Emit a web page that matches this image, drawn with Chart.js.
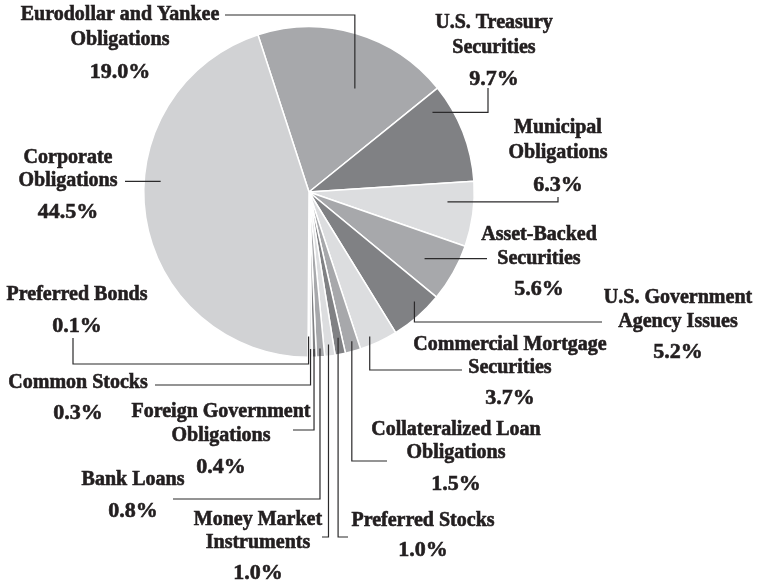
<!DOCTYPE html>
<html>
<head>
<meta charset="utf-8">
<script src="https://cdn.jsdelivr.net/npm/chart.js@4"></script>
<style>
  html, body { margin: 0; padding: 0; background: #fff; }
  #wrap { width: 759px; height: 584px; }
</style>
</head>
<body>
<div id="wrap"><canvas id="pieChart" width="759" height="584"></canvas></div>
<script>
// data, clockwise from the top-left edge of the Eurodollar slice
const categories = [
    'Eurodollar and Yankee\nObligations',
    'U.S. Treasury\nSecurities',
    'Municipal\nObligations',
    'Asset-Backed\nSecurities',
    'U.S. Government\nAgency Issues',
    'Commercial Mortgage\nSecurities',
    'Collateralized Loan\nObligations',
    'Preferred Stocks',
    'Money Market\nInstruments',
    'Bank Loans',
    'Foreign Government\nObligations',
    'Common Stocks',
    'Preferred Bonds',
    'Corporate\nObligations'
];
const shares = [19.0, 9.7, 6.3, 5.6, 5.2, 3.7, 1.5, 1.0, 1.0, 0.8, 0.4, 0.3, 0.1, 44.5];

const MED = '#a7a8ab', DARK = '#808184', LIGHT = '#dcdddf';
const sliceColors = [MED, DARK, LIGHT, MED, DARK, LIGHT, MED, DARK, LIGHT, MED, DARK, LIGHT, MED, '#d1d2d4'];

// where each label sits and how its leader line runs
// t/f: anchor inside the slice (fraction of the sweep / of the radius)
// route: elbows, 'v' moves to a y, 'h' moves to an x
const labelLayout = [
    { x: 120, ys: [15, 40], py: 72, t: 0.607, f: 0.685, route: [['v', 15], ['h', 225]] },
    { x: 494, ys: [23, 48], py: 79, t: 0.175, f: 0.889, route: [['h', 488], ['v', 88]] },
    { x: 558, ys: [128, 153], py: 185, t: 0.34, f: 0.84, route: [['h', 558], ['v', 197]] },
    { x: 539, ys: [235, 259], py: 289, t: 0.53, f: 0.807, route: [['h', 487]] },
    { x: 678, ys: [298, 322], py: 352, t: 0.35, f: 0.92, route: [['v', 322], ['h', 602]] },
    { x: 510, ys: [345, 368], py: 398, t: 0.656, f: 0.948, route: [['v', 370], ['h', 462]] },
    { x: 456, ys: [430, 453], py: 484, t: 0.4, f: 0.94, route: [['v', 461], ['h', 387]] },
    { x: 423, ys: [521], py: 550, t: 0.4, f: 0.9, route: [['v', 537], ['h', 348]] },
    { x: 258, ys: [520, 543], py: 573, t: 0.5, f: 0.93, route: [['v', 537], ['h', 322]] },
    { x: 133, ys: [480], py: 511, t: 0.5, f: 0.95, route: [['v', 499], ['h', 173]] },
    { x: 221, ys: [412, 436], py: 467, t: 0.5, f: 0.95, route: [['v', 430], ['h', 293]] },
    { x: 78, ys: [383], py: 413, t: 0.5, f: 0.95, route: [['v', 385], ['h', 155]] },
    { x: 77, ys: [295], py: 326, t: 0.5, f: 0.875, route: [['v', 364], ['h', 73], ['v', 338]] },
    { x: 68, ys: [158, 181], py: 212, t: 0.58, f: 0.9, route: [['h', 125]] }
];

function boldText(ctx, str, x, y) {
    // the printed original is heavier than Liberation Serif Bold
    ctx.fillText(str, x, y);
    ctx.strokeText(str, x, y);
}

const leaderLabels = {
    id: 'leaderLabels',
    afterDatasetsDraw(chart) {
        const ctx = chart.ctx;
        const arcs = chart.getDatasetMeta(0).data;
        ctx.save();
        ctx.fillStyle = '#231f20';
        ctx.textAlign = 'center';
        ctx.textBaseline = 'middle';
        arcs.forEach((arc, i) => {
            const p = arc.getProps(['x', 'y', 'startAngle', 'endAngle', 'outerRadius'], true);
            const lay = labelLayout[i];
            const a = p.startAngle + (p.endAngle - p.startAngle) * lay.t;
            let x = p.x + Math.cos(a) * p.outerRadius * lay.f;
            let y = p.y + Math.sin(a) * p.outerRadius * lay.f;
            ctx.strokeStyle = '#2b2a2b';
            ctx.lineWidth = 1.2;
            ctx.beginPath();
            ctx.moveTo(x, y);
            lay.route.forEach(([dir, v]) => {
                if (dir === 'h') x = v; else y = v;
                ctx.lineTo(x, y);
            });
            ctx.stroke();

            ctx.strokeStyle = '#231f20';
            ctx.lineWidth = 0.6;
            ctx.font = "bold 20px 'Liberation Serif', serif";
            categories[i].split('\n').forEach((line, k) => {
                boldText(ctx, line, lay.x, lay.ys[k]);
            });
            ctx.font = "bold 22px 'Liberation Serif', serif";
            boldText(ctx, shares[i].toFixed(1) + '%', lay.x, lay.py);
        });
        ctx.restore();
    }
};

new Chart(document.getElementById('pieChart'), {
    type: 'pie',
    data: {
        labels: categories,
        datasets: [{
            data: shares,
            backgroundColor: sliceColors,
            borderColor: '#ffffff',
            borderWidth: 1.5
        }]
    },
    options: {
        responsive: false,
        animation: false,
        rotation: -18,
        layout: { padding: { left: 143, top: 26, right: 284, bottom: 226 } },
        plugins: { legend: { display: false }, tooltip: { enabled: false } }
    },
    plugins: [leaderLabels]
});
</script>
</body>
</html>
